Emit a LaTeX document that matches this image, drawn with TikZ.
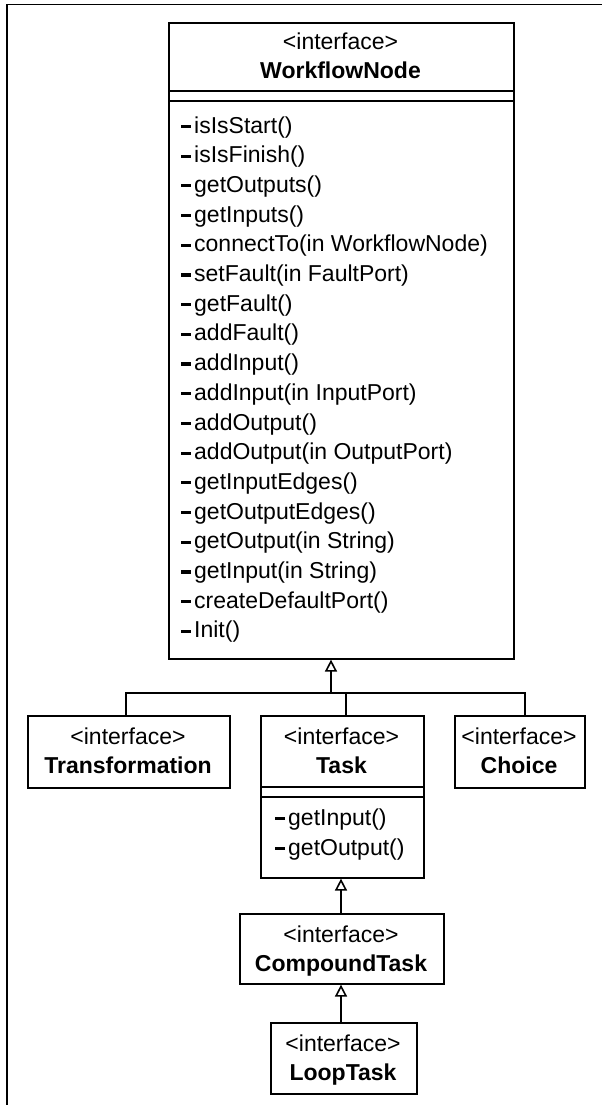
\documentclass[tikz,border=0pt]{standalone}
\usepackage{fontspec}
\setmainfont{Liberation Sans}
\usetikzlibrary{arrows.meta,calc}
\newcommand\vis{\rule[5pt]{10pt}{3.2pt}\hspace{3pt}}
\begin{document}
\begin{tikzpicture}[x=1pt,y=-1pt,
  every node/.style={font=\fontsize{23}{28}\selectfont, inner sep=0pt},
  box/.style={draw, line width=1.6pt, rectangle, anchor=north west, inner sep=0pt},
  hdr/.style={anchor=base},
  nm/.style={anchor=base, font=\fontsize{23}{28}\selectfont\bfseries},
  meth/.style={anchor=base west},
  ln/.style={line width=1.6pt},
  gen/.style={line width=1.6pt, -{Triangle[open, length=12pt, width=12pt]}},
]
\useasboundingbox (0,0) rectangle (602,1105);
\fill[white] (0,0) rectangle (602,1105);
\draw[ln] (7,1105) -- (7,4.5) -- (602,4.5);

% WorkflowNode
\node[box, minimum width=345pt, minimum height=636pt] (wf) at (168,22) {};
\draw[ln] (wf.west |- 0,91) -- (wf.east |- 0,91);
\draw[ln] (wf.west |- 0,101) -- (wf.east |- 0,101);
\node[hdr] (wfst) at (340.5,50) {<interface>};
\node[nm] (wfnm) at (340.5,79) {WorkflowNode};
\foreach \t [count=\i from 0] in {isIsStart(), isIsFinish(), getOutputs(), getInputs(),
  connectTo(in WorkflowNode), setFault(in FaultPort), getFault(), addFault(), addInput(),
  addInput(in InputPort), addOutput(), addOutput(in OutputPort), getInputEdges(),
  getOutputEdges(), getOutput(in String), getInput(in String), createDefaultPort(), Init()}
  \node[meth] (m\i) at (181, {133+29.7*\i}) {\vis\t};

% children
\node[box, minimum width=202pt, minimum height=72pt] (trans) at (27,715) {};
\node[hdr] (transst) at (128,744) {<interface>};
\node[nm] (transnm) at (128,773) {Transformation};

\node[box, minimum width=163pt, minimum height=162pt] (task) at (260,715) {};
\draw[ln] (task.west |- 0,787) -- (task.east |- 0,787);
\draw[ln] (task.west |- 0,797) -- (task.east |- 0,797);
\node[hdr] (taskst) at (341.5,744) {<interface>};
\node[nm] (tasknm) at (341.5,773) {Task};
\node[meth] (tm1) at (275,825) {\vis getInput()};
\node[meth] (tm2) at (275,855) {\vis getOutput()};

\node[box, minimum width=130pt, minimum height=72pt] (choice) at (454,715) {};
\node[hdr] (choicest) at (519,744) {<interface>};
\node[nm] (choicenm) at (519,773) {Choice};

\node[box, minimum width=204pt, minimum height=70pt] (comp) at (239,913) {};
\node[hdr] (compst) at (341,942) {<interface>};
\node[nm] (compnm) at (341,971) {CompoundTask};

\node[box, minimum width=146pt, minimum height=71pt] (loop) at (270,1022) {};
\node[hdr] (loopst) at (343,1051) {<interface>};
\node[nm] (loopnm) at (343,1080) {LoopTask};

% connectors
\coordinate (jL) at (126,693);
\coordinate (jR) at (525,693);
\coordinate (jM) at (331,693);
\coordinate (jT) at (346,693);
\draw[ln] (jL |- trans.north) -- (jL) -- (jR) -- (jR |- choice.north);
\draw[ln] (jT) -- (jT |- task.north);
\draw[gen] (jM) -- (jM |- wf.south);
\draw[gen] (comp.north -| 341,0) -- (task.south -| 341,0);
\draw[gen] (loop.north -| 341,0) -- (comp.south -| 341,0);
\end{tikzpicture}
\end{document}
